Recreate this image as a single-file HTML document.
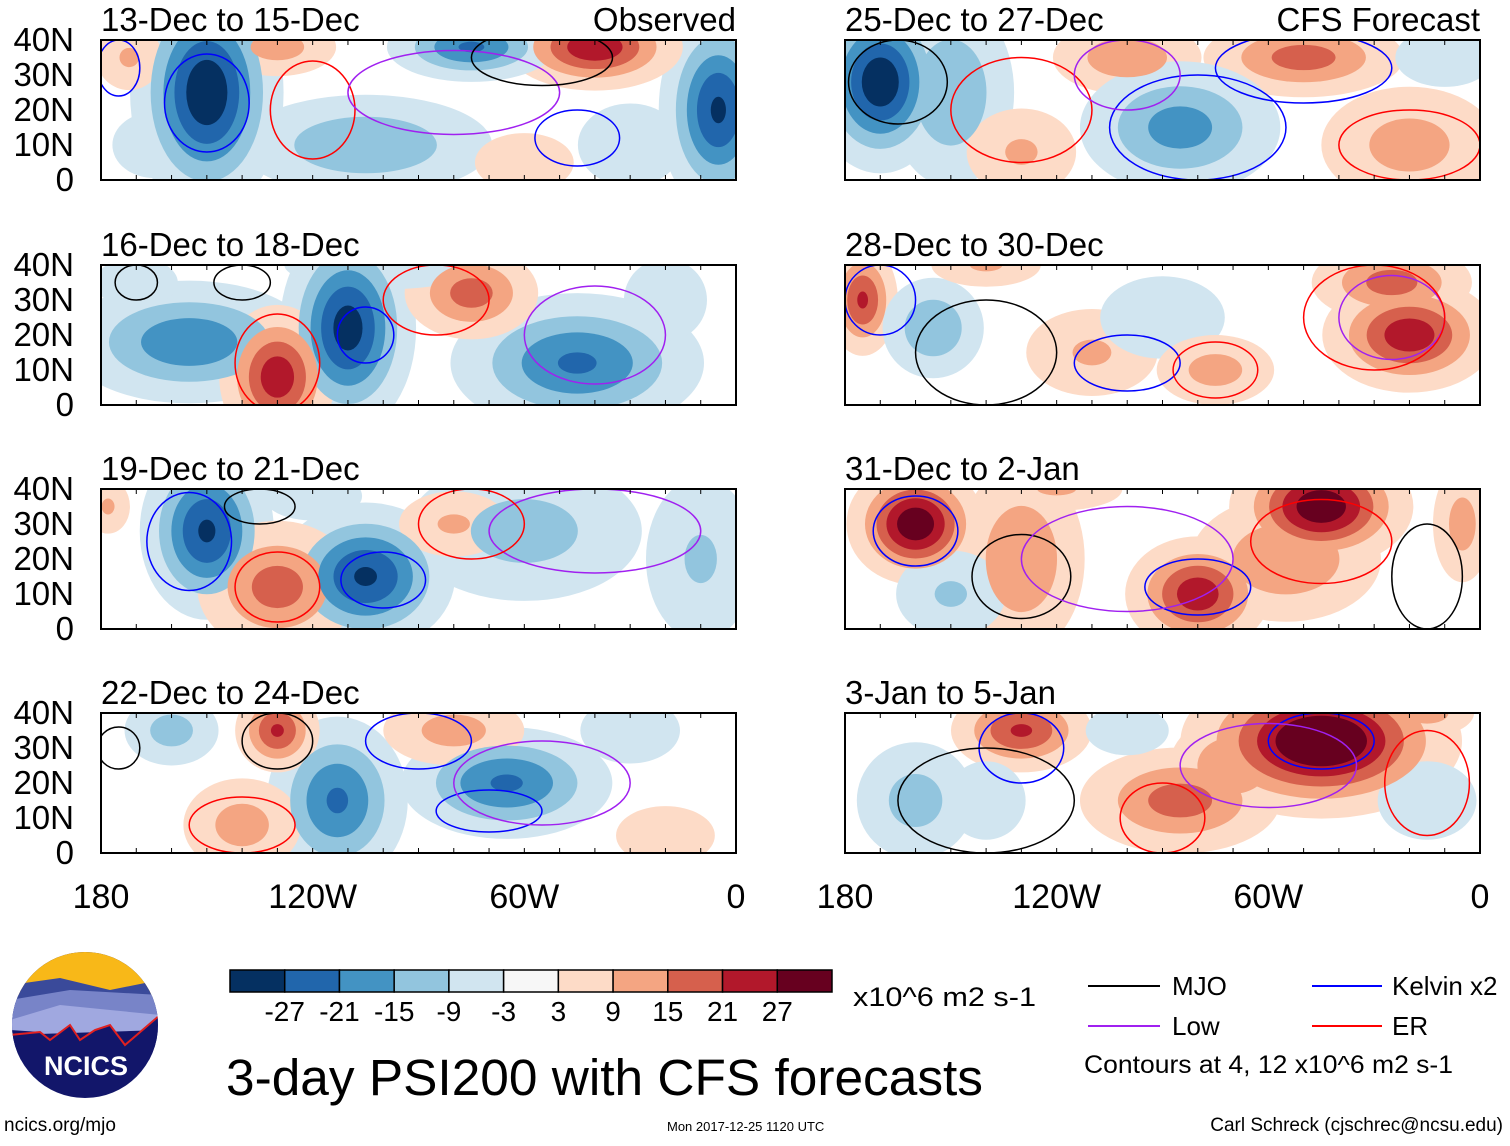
<!DOCTYPE html>
<html><head><meta charset="utf-8"><style>
html,body{margin:0;padding:0;background:#fff;}
body{width:1510px;height:1141px;overflow:hidden;font-family:"Liberation Sans",sans-serif;}
</style></head><body>
<svg id="chart" width="1510" height="1141" viewBox="0 0 1510 1141" xmlns="http://www.w3.org/2000/svg" font-family="Liberation Sans, sans-serif">
<defs id="defs"></defs>
<g id="panels"></g>
<g id="colorbar"></g>
<text x="853" y="1006" font-size="27" textLength="183" lengthAdjust="spacingAndGlyphs">x10^6 m2 s-1</text>
<text x="226" y="1095" font-size="51" textLength="757" lengthAdjust="spacingAndGlyphs">3-day PSI200 with CFS forecasts</text>
<g font-size="26">
<line x1="1088" y1="986" x2="1160" y2="986" stroke="#000" stroke-width="2"/><text x="1172" y="995">MJO</text>
<line x1="1088" y1="1026" x2="1160" y2="1026" stroke="#a020f0" stroke-width="2"/><text x="1172" y="1035">Low</text>
<line x1="1312" y1="986" x2="1382" y2="986" stroke="#0000ff" stroke-width="2"/><text x="1392" y="995">Kelvin x2</text>
<line x1="1312" y1="1026" x2="1382" y2="1026" stroke="#ff0000" stroke-width="2"/><text x="1392" y="1035">ER</text>
<text x="1084" y="1073" font-size="25" textLength="369" lengthAdjust="spacingAndGlyphs">Contours at 4, 12 x10^6 m2 s-1</text>
</g>
<g>
<clipPath id="logoclip"><circle cx="85" cy="1025" r="73"/></clipPath>
<g clip-path="url(#logoclip)">
<rect x="10" y="950" width="150" height="150" fill="#12166a"/>
<rect x="10" y="950" width="150" height="45" fill="#f8b818"/>
<path d="M10 985 L60 978 L110 990 L160 980 L160 1000 L10 1010Z" fill="#3a4a9a"/>
<path d="M10 1000 L70 990 L160 995 L160 1030 L10 1030Z" fill="#7884c8"/>
<path d="M10 1020 L60 1005 L110 1010 L160 1015 L160 1030 L10 1035Z" fill="#a0a8e0"/>
<path d="M10 1030 L40 1032 L50 1040 L70 1025 L80 1040 L95 1030 L110 1025 L125 1045 L160 1015 L160 1060 L10 1060Z" fill="#12166a"/>
<path d="M10 1035 L40 1032 L50 1040 L70 1025 L80 1040 L95 1030 L110 1025 L125 1045 L160 1015" fill="none" stroke="#e02020" stroke-width="2"/>
</g>
<text x="86" y="1075" font-size="27" font-weight="bold" fill="#fff" text-anchor="middle">NCICS</text>
</g>
<text x="4" y="1131" font-size="19">ncics.org/mjo</text>
<text x="667" y="1131" font-size="13">Mon 2017-12-25 1120 UTC</text>
<text x="1503" y="1131" font-size="19" text-anchor="end">Carl Schreck (cjschrec@ncsu.edu)</text>
</svg>
<script>
const NS="http://www.w3.org/2000/svg";
const levels=[-27,-21,-15,-9,-3,3,9,15,21,27];
const colors=["#053061","#2166ac","#4393c3","#92c5de","#d1e5f0","#f7f7f7","#fddbc7","#f4a582","#d6604d","#b2182b","#67001f"];
const panelTitles=["13-Dec to 15-Dec","16-Dec to 18-Dec","19-Dec to 21-Dec","22-Dec to 24-Dec","25-Dec to 27-Dec","28-Dec to 30-Dec","31-Dec to 2-Jan","3-Jan to 5-Jan"];
const latTicks=["40N","30N","20N","10N","0"];
const lonTicks=["180","120W","60W","0"];
// blobs: [lonW, lat, peak, sigmaLon, sigmaLat]
const blobs1=[[150,25,-32,10,16],[5,20,-28,8,14],[40,38,26,12,6],[75,38,-22,12,5],[105,10,-15,20,8],[130,38,12,10,5],[172,35,10,6,6],[60,5,8,10,6],[30,10,-9,10,8],[165,10,-6,10,8]];
const blobs2=[[110,22,-30,9,14],[155,18,-20,18,9],[45,12,-22,18,10],[130,8,25,8,10],[75,32,18,10,7],[100,40,-8,20,5],[170,35,-6,10,6],[20,30,-6,10,10]];
const blobs3=[[150,28,-28,9,12],[105,15,-28,12,10],[130,12,18,12,10],[60,28,-12,20,12],[80,30,10,10,6],[10,20,-10,10,15],[120,38,-8,10,5],[178,35,10,4,5]];
const blobs4=[[65,20,-22,15,8],[113,15,-22,10,12],[130,35,22,6,6],[140,8,12,10,8],[160,35,-12,8,6],[80,35,12,12,6],[30,35,-6,12,8],[20,5,8,10,6]];
const blobs5=[[170,28,-32,9,12],[150,25,-15,10,15],[100,35,14,12,6],[50,35,18,15,6],[85,15,-18,15,10],[20,10,12,15,10],[130,8,10,10,8],[10,35,-8,10,6]];
const blobs6=[[175,30,22,5,8],[155,22,-15,8,8],[20,20,25,12,8],[25,35,18,12,6],[110,15,10,12,8],[90,25,-6,15,10],[75,10,12,10,6],[140,40,10,10,4]];
const blobs7=[[160,30,32,9,8],[45,35,32,12,8],[80,10,25,10,8],[130,20,15,10,15],[55,20,15,15,10],[150,10,-10,10,8],[5,30,12,5,10],[120,40,10,12,4]];
const blobs8=[[45,32,35,18,10],[130,35,22,10,6],[85,15,18,15,8],[70,25,15,10,8],[160,15,-12,10,10],[140,15,-8,8,8],[15,15,-8,10,8],[100,35,-6,10,6],[15,40,12,8,4]];
const allBlobs=[blobs1,blobs2,blobs3,blobs4,blobs5,blobs6,blobs7,blobs8];
// contour lines: [lonW, lat, rLon, rLat, colorIdx] 0 MJO,1 Low,2 Kelvin,3 ER
const lines1=[[150,22,12,14,2],[120,20,12,14,3],[80,25,30,12,1],[45,12,12,8,2],[175,32,6,8,2],[55,35,20,8,0]];
const lines2=[[170,35,6,5,0],[140,35,8,5,0],[130,12,12,14,3],[105,20,8,8,2],[40,20,20,14,1],[85,30,15,10,3]];
const lines3=[[155,25,12,14,2],[130,12,12,10,3],[100,14,12,8,2],[135,35,10,5,0],[40,28,30,12,1],[75,30,15,10,3]];
const lines4=[[175,30,6,6,0],[130,32,10,8,0],[140,8,15,8,3],[70,12,15,6,2],[55,20,25,12,1],[90,32,15,8,2]];
const lines5=[[165,28,14,12,0],[130,20,20,15,3],[80,15,25,15,2],[50,32,25,10,2],[20,10,20,10,3],[100,30,15,10,1]];
const lines6=[[170,30,10,10,2],[100,12,15,8,2],[75,10,12,8,3],[25,25,15,12,1],[140,15,20,15,0],[30,25,20,15,3]];
const lines7=[[160,28,12,10,2],[130,15,14,12,0],[80,12,15,8,2],[45,25,20,12,3],[15,15,10,15,0],[100,20,30,15,1]];
const lines8=[[45,32,15,8,2],[130,30,12,10,2],[90,10,12,10,3],[140,15,25,15,0],[60,25,25,12,1],[15,20,12,15,3]];
const allLines=[lines1,lines2,lines3,lines4,lines5,lines6,lines7,lines8];
const lineColors=["#000","#a020f0","#0000ff","#ff0000"];

const colX=[101,845], rowY=[40,265,489,713], PW=635, PH=140;
function xScale(p,lonW){return p.x+(180-lonW)/180*PW;}
function yScale(p,lat){return p.y+(40-lat)/40*PH;}
const gPanels=document.getElementById('panels'), defs=document.getElementById('defs');
function mk(tag,attrs,parent){const e=document.createElementNS(NS,tag);for(const k in attrs)e.setAttribute(k,attrs[k]);parent.appendChild(e);return e;}
allBlobs.forEach((blobs,i)=>{
  const p={x:colX[i<4?0:1],y:rowY[i%4]};
  const g=mk('g',{},gPanels);
  
  
  const cp=mk('clipPath',{id:'cp'+i},defs);
  mk('rect',{x:p.x,y:p.y,width:PW,height:PH},cp);
  const inner=mk('g',{'clip-path':'url(#cp'+i+')'},g);
  mk('rect',{x:p.x,y:p.y,width:PW,height:PH,fill:'#fff'},inner);
  const thr=[3,9,15,21,27];
  thr.forEach((t,ti)=>{
    blobs.forEach(b=>{
      const a=Math.abs(b[2]); if(a<=t) return;
      const k=Math.sqrt(2*Math.log(a/t));
      const ci=b[2]>0?6+ti:4-ti;
      const e=mk('ellipse',{cx:xScale(p,b[0]),cy:yScale(p,b[1]),rx:b[3]*k*PW/180,ry:b[4]*k*PH/40,fill:colors[ci]},inner);
      
      
    });
  });
  allLines[i].forEach(l=>{
    const e=mk('ellipse',{cx:xScale(p,l[0]),cy:yScale(p,l[1]),rx:l[2]*PW/180,ry:l[3]*PH/40,fill:'none',stroke:lineColors[l[4]],'stroke-width':1.5},inner);
    
    
  });
  const fr=mk('rect',{x:p.x,y:p.y,width:PW,height:PH,fill:'none',stroke:'#000','stroke-width':2},g);
  
  
  for(let lon=180;lon>=0;lon-=10){const x=xScale(p,lon);mk('line',{x1:x,y1:p.y,x2:x,y2:p.y+5,stroke:'#000'},g);mk('line',{x1:x,y1:p.y+PH,x2:x,y2:p.y+PH-5,stroke:'#000'},g);}
  const t=mk('text',{x:p.x,y:p.y-9,'font-size':33},g);t.textContent=panelTitles[i];
  
  
  if(i===0){const o=mk('text',{x:p.x+PW,y:p.y-9,'font-size':33,'text-anchor':'end'},g);o.textContent='Observed';
    
    }
  if(i===4){const o=mk('text',{x:p.x+PW,y:p.y-9,'font-size':33,'text-anchor':'end'},g);o.textContent='CFS Forecast';
    
    }
  if(i<4){latTicks.forEach((lt,j)=>{const tt=mk('text',{x:74,y:yScale(p,40-j*10)+11,'font-size':33,'text-anchor':'end'},g);tt.textContent=lt;
    
    });}
  if(i%4===3){lonTicks.forEach((lt,j)=>{const tt=mk('text',{x:xScale(p,180-j*60),y:908,'font-size':34,'text-anchor':'middle'},g);tt.textContent=lt;
    
    });}
});
const cb=document.getElementById('colorbar');
const bw=(832-230)/colors.length;
colors.forEach((c,i)=>{const r=mk('rect',{x:230+i*bw,y:970,width:bw,height:22,fill:c,stroke:'#000','stroke-width':1.5},cb);
  
  });
levels.forEach((l,i)=>{const t=mk('text',{x:230+(i+1)*bw,y:1021,'font-size':28,'text-anchor':'middle'},cb);t.textContent=l;
  
  });
</script>
</body></html>
